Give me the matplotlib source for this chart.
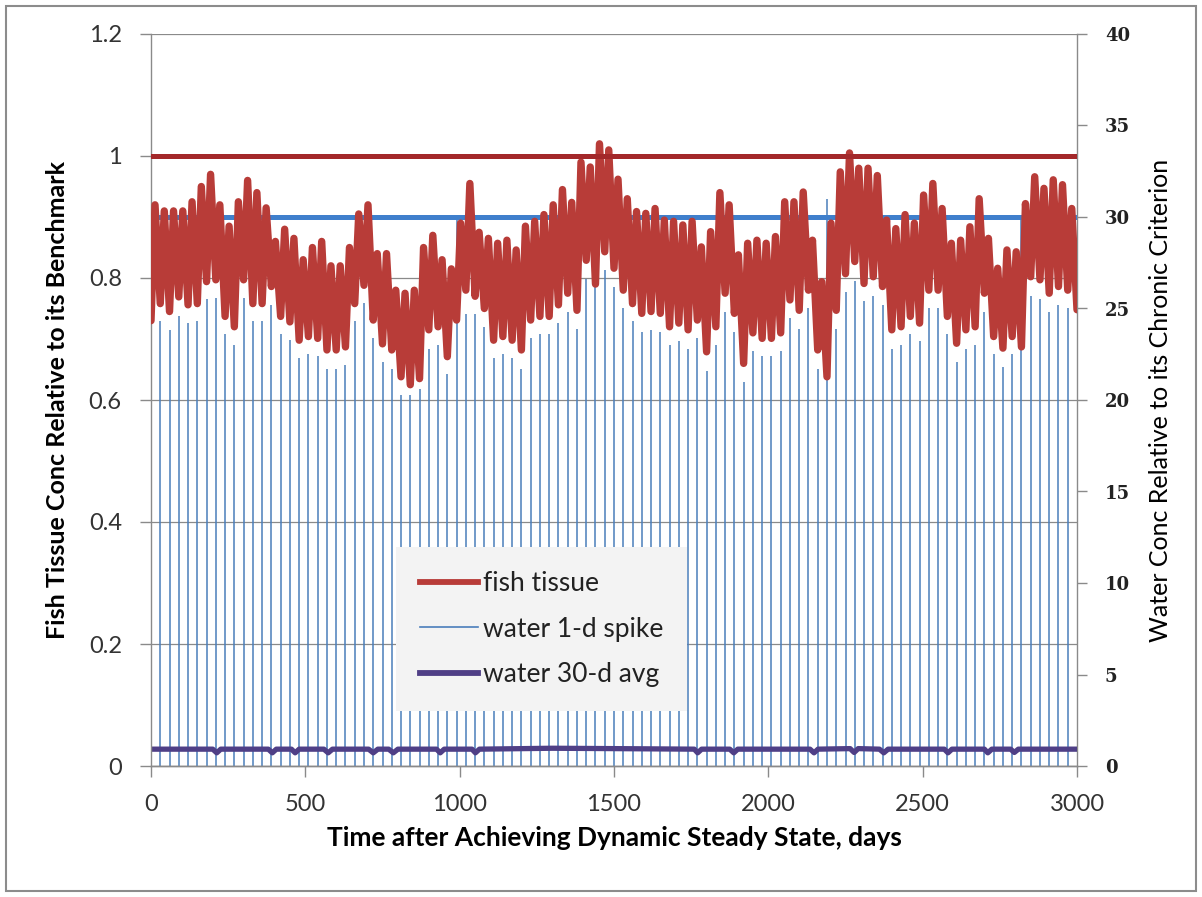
import matplotlib
matplotlib.use("Agg")
import matplotlib.pyplot as plt
import numpy as np
from matplotlib.lines import Line2D
from matplotlib.patches import Rectangle

# ---------------- data ----------------
# fish tissue: trough at day 30k, peak at day 30k+13, k = 0..99, end at day 3000
fish_trough = [0.73, 0.758, 0.745, 0.769, 0.756, 0.758, 0.794, 0.797, 0.737, 0.72,
               0.797, 0.758, 0.758, 0.786, 0.737, 0.728, 0.698, 0.704, 0.701, 0.682,
               0.682, 0.687, 0.758, 0.788, 0.731, 0.692, 0.682, 0.638, 0.625, 0.635,
               0.715, 0.72, 0.671, 0.731, 0.78, 0.77, 0.75,
               0.698, 0.704, 0.698, 0.682, 0.731, 0.737, 0.737, 0.756, 0.775, 0.747,
               0.829, 0.79, 0.843, 0.816, 0.78, 0.758, 0.742, 0.745, 0.742, 0.72,
               0.726, 0.715, 0.731, 0.679, 0.72, 0.775, 0.742, 0.66, 0.71, 0.701,
               0.701, 0.71, 0.764, 0.747,
               0.78, 0.682, 0.638, 0.747, 0.807, 0.827, 0.791, 0.802, 0.786, 0.715,
               0.72, 0.737, 0.726, 0.78, 0.78, 0.737, 0.693, 0.715, 0.72, 0.775,
               0.704, 0.685, 0.704, 0.687, 0.802, 0.797, 0.775, 0.786, 0.78]
fish_peak = [0.92, 0.91, 0.91, 0.91, 0.925, 0.95, 0.97, 0.92, 0.885, 0.925,
             0.96, 0.94, 0.915, 0.86, 0.88, 0.865, 0.83, 0.85, 0.86, 0.82,
             0.82, 0.85, 0.905, 0.92, 0.84, 0.84, 0.78, 0.775, 0.78, 0.85,
             0.87, 0.83, 0.815, 0.89, 0.955, 0.875, 0.865,
             0.857, 0.862, 0.846, 0.885, 0.893, 0.904, 0.92, 0.945, 0.924, 0.99,
             0.982, 1.02, 1.01, 0.962, 0.93, 0.909, 0.906, 0.914, 0.895, 0.893,
             0.887, 0.893, 0.851, 0.876, 0.94, 0.92, 0.838, 0.857, 0.862, 0.857,
             0.868, 0.925, 0.925, 0.941,
             0.862, 0.794, 0.89, 0.974, 1.005, 0.98, 0.98, 0.968, 0.895, 0.881,
             0.904, 0.89, 0.936, 0.955, 0.914, 0.857, 0.862, 0.884, 0.93, 0.865,
             0.816, 0.846, 0.843, 0.922, 0.966, 0.947, 0.961, 0.953, 0.914]
fish_end = 0.748
cycle_days = 30
peak_lag = 13

# water 1-d spikes (right axis), one every 30 days from day 30 to 2970
spike_heights = [24.3, 23.8, 24.6, 24.2, 24.3, 25.5, 25.6, 23.6, 23.0,
                 25.6, 24.3, 24.3, 25.2, 23.6, 23.3, 22.3, 22.5, 22.4, 21.7,
                 21.7, 21.9, 24.3, 25.3, 23.4, 22.1, 21.7, 20.3, 20.3, 20.6,
                 22.8, 23.0, 21.4, 30.0, 24.7, 24.7, 24.0,
                 22.3, 22.5, 22.3, 21.7, 23.4, 23.6, 23.6, 24.2, 24.8, 23.9,
                 26.6, 27.0, 27.1, 26.2, 25.0, 24.3, 23.7, 23.8, 23.7, 23.0,
                 23.2, 22.8, 23.4, 21.6, 23.0, 24.8, 23.7, 21.0, 22.7, 22.4,
                 22.4, 22.7, 24.5, 23.9,
                 25.0, 21.7, 31.0, 23.9, 25.9, 26.5, 25.4, 25.7, 25.2, 22.8,
                 23.0, 23.6, 23.2, 25.0, 25.0, 23.6, 22.1, 22.8, 23.0, 24.8,
                 22.5, 21.8, 22.5, 30.0, 25.7, 25.5, 24.8, 25.2, 25.0]

# water 30-d average (right axis)
avg_days = [0, 200, 213, 226, 380, 393, 406, 455, 467, 480, 560, 574, 588,
            705, 720, 735, 770, 785, 800, 925, 937, 950, 1040, 1051, 1064,
            1300, 1500, 1760, 1771, 1784, 1875, 1888, 1901, 2135, 2148, 2161,
            2265, 2278, 2291, 2360, 2374, 2388, 2570, 2582, 2595, 2700, 2711,
            2724, 2785, 2797, 2810, 3000]
avg_vals = [0.92, 0.92, 0.72, 0.92, 0.92, 0.72, 0.92, 0.92, 0.72, 0.92, 0.92, 0.72, 0.92,
            0.92, 0.72, 0.92, 0.92, 0.72, 0.92, 0.92, 0.72, 0.92, 0.92, 0.72, 0.92,
            0.97, 0.95, 0.92, 0.72, 0.92, 0.92, 0.72, 0.92, 0.92, 0.72, 0.92,
            0.95, 0.74, 0.95, 0.92, 0.72, 0.92, 0.92, 0.72, 0.92, 0.92, 0.72,
            0.92, 0.92, 0.74, 0.92, 0.92]

benchmark = 1.0       # left axis
spike_ref = 30.0      # right axis

x_ticks = [0, 500, 1000, 1500, 2000, 2500, 3000]
left_ticks = [0, 0.2, 0.4, 0.6, 0.8, 1.0, 1.2]
left_tick_labels = ["0", "0.2", "0.4", "0.6", "0.8", "1", "1.2"]
right_ticks = [0, 5, 10, 15, 20, 25, 30, 35, 40]

# ---------------- build series ----------------
n = len(fish_peak)
fish_days, fish_vals = [], []
for k in range(n):
    fish_days += [k * cycle_days, k * cycle_days + peak_lag]
    fish_vals += [fish_trough[k], fish_peak[k]]
fish_days.append(3000)
fish_vals.append(fish_end)

spike_days = [cycle_days * (i + 1) for i in range(len(spike_heights))]

# ---------------- figure ----------------
W, H = 1202, 897
fig = plt.figure(figsize=(W / 100, H / 100), dpi=100)
fig.patch.set_facecolor("white")

L, R, T, B = 151, 1077, 34, 766
ax2 = fig.add_axes([L / W, (H - B) / H, (R - L) / W, (B - T) / H])
ax1 = fig.add_axes(ax2.get_position(), sharex=ax2)
ax1.set_zorder(ax2.get_zorder() + 1)
ax1.patch.set_visible(False)

tick_font = "Lato"
grid_c = "#8a8a8a"
txt_c = "#333333"

# right axis: spikes and 30-d avg
ax2.vlines(spike_days, 0, spike_heights, color="#4a7ebb", lw=1.1, zorder=2)
ax2.plot(avg_days, avg_vals, color="#4f3f86", lw=3.8, zorder=3,
         solid_capstyle="butt", solid_joinstyle="round")
ax2.set_ylim(0, 40)
ax2.set_yticks(right_ticks)
ax2.yaxis.tick_right()
ax2.yaxis.set_label_position("right")
ax2.set_xlim(0, 3000)
for lab in ax2.get_yticklabels():
    lab.set_fontfamily("DejaVu Serif")
    lab.set_fontweight("bold")
    lab.set_fontsize(13)
ax2.tick_params(axis="y", direction="out", length=7, width=1, color=grid_c,
                pad=13, labelcolor="#222222")
ax2.set_ylabel("Water Conc Relative to its Chronic Criterion", fontfamily=tick_font,
               fontsize=18, labelpad=14)
ax2.tick_params(axis="x", bottom=False, labelbottom=False)

# horizontal gridlines at the left-axis ticks, beneath the spikes
ax1.set_ylim(0, 1.2)
for yv in left_ticks:
    ax2.axhline(yv * 40 / 1.2, color=grid_c, lw=0.9, zorder=1)

# left axis: fish tissue
ax1.plot(fish_days, fish_vals, color="#b83c38", lw=5.3, zorder=3,
         solid_joinstyle="round", solid_capstyle="round")
ax1.axhline(benchmark, color="#a3282a", lw=3.6, zorder=4)
ax2.axhline(spike_ref, color="#3f7fcc", lw=3.6, zorder=6)
ax1.set_yticks(left_ticks)
ax1.set_yticklabels(left_tick_labels)
ax1.set_xticks(x_ticks)
ax1.set_xlim(0, 3000)
ax1.tick_params(axis="both", labelsize=17, direction="out", length=8, width=1,
                color=grid_c, labelcolor=txt_c)
ax1.tick_params(axis="y", pad=13)
ax1.tick_params(axis="x", pad=12)
for lab in ax1.get_xticklabels() + ax1.get_yticklabels():
    lab.set_fontfamily(tick_font)
ax1.set_ylabel("Fish Tissue Conc Relative to its Benchmark", fontfamily=tick_font,
               fontsize=18, fontweight="bold", labelpad=14)
ax1.set_xlabel("Time after Achieving Dynamic Steady State, days", fontfamily=tick_font,
               fontsize=19, fontweight="bold", labelpad=8)

for ax in (ax1, ax2):
    ax.spines["top"].set_visible(False)
    for s in ("left", "right", "bottom"):
        ax.spines[s].set_color(grid_c)
        ax.spines[s].set_linewidth(1)
ax1.spines["right"].set_visible(False)
ax2.spines["left"].set_visible(False)

# legend
handles = [Line2D([], [], color="#b83c38", lw=4.2),
           Line2D([], [], color="#4a7ebb", lw=1.2),
           Line2D([], [], color="#4f3f86", lw=4.2)]
labels = ["fish tissue", "water 1-d spike", "water 30-d avg"]
leg = ax1.legend(handles, labels, loc="center", bbox_to_anchor=(0.422, 0.187),
                 prop={"family": tick_font, "size": 19}, frameon=True,
                 facecolor="#f3f3f3", edgecolor="none", framealpha=1,
                 handlelength=2.2, handletextpad=0.2, labelspacing=0.78,
                 borderpad=0.9, borderaxespad=0, fancybox=False)
for t in leg.get_texts():
    t.set_color("#222222")
leg.set_zorder(20)

# chart-area border
fig.patches.append(Rectangle((6 / W, 6 / H), (1196 - 6) / W, (891 - 6) / H,
                             transform=fig.transFigure, fill=False,
                             edgecolor="#8c8c8c", lw=1.5))

fig.savefig("out.png", dpi=100, facecolor="white")
